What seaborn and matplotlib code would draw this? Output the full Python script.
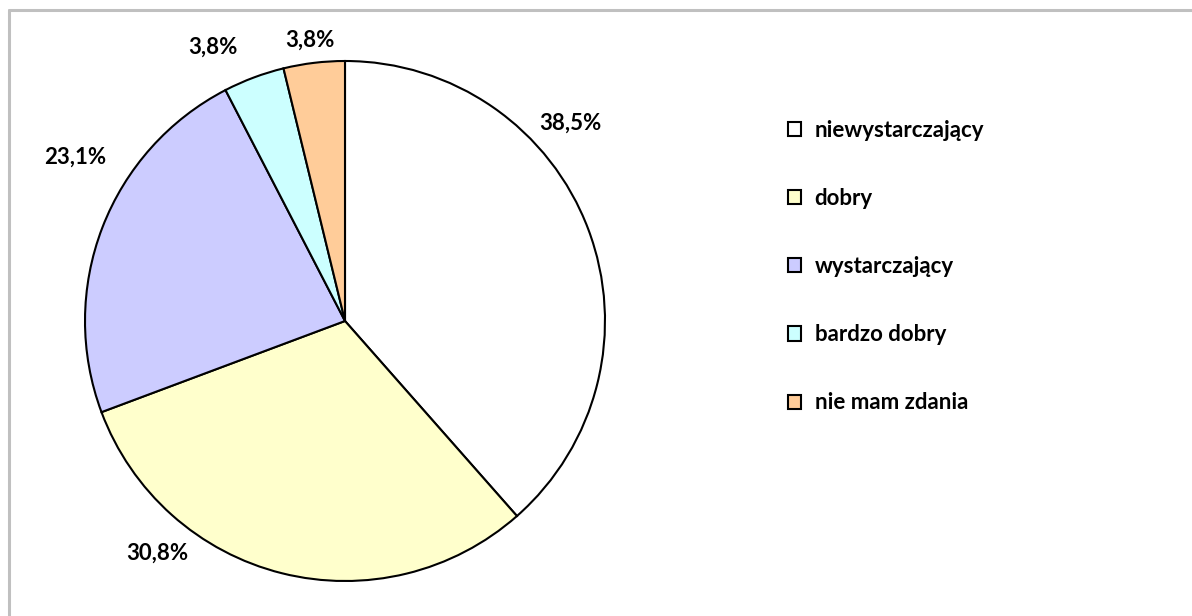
import numpy as np
import seaborn as sns
import matplotlib.pyplot as plt
from matplotlib.lines import Line2D
from matplotlib.patches import Patch

sns.set_theme(style="white")
plt.rcParams['font.family'] = ['Lato', 'DejaVu Sans']

# data
categories = ['niewystarczający', 'dobry', 'wystarczający', 'bardzo dobry', 'nie mam zdania']
values = [38.5, 30.8, 23.1, 3.8, 3.8]
colors = ['#FFFFFF', '#FFFFCC', '#CCCCFF', '#CCFFFF', '#FFCC99']
# where excel put the labels (angle in degrees, radius relative to the pie)
label_angle = [41.3, -129.0, 148.7, 115.7, 97.1]
label_radius = [1.153, 1.148, 1.215, 1.17, 1.09]

W, H = 1192, 616
fig = plt.figure(figsize=(W / 100, H / 100), dpi=100)

# pie: centre at (345, 321) px from top-left, radius 260 px
R = 260
lim = 1.3
side = 2 * R * lim
cx, cy = 345, H - 321
ax = fig.add_axes([(cx - side / 2) / W, (cy - side / 2) / H, side / W, side / H])
wedges, _ = ax.pie(values, colors=colors, startangle=90, counterclock=False,
                   radius=1, wedgeprops=dict(edgecolor='black', linewidth=1.5))
ax.set_xlim(-lim, lim)
ax.set_ylim(-lim, lim)
ax.set_aspect('equal')
ax.axis('off')

for v, a, r in zip(values, label_angle, label_radius):
    t = np.deg2rad(a)
    ax.text(r * np.cos(t), r * np.sin(t), f"{v:.1f}%".replace('.', ','),
            ha='center', va='center', fontsize=16, fontweight='bold', color='black')

handles = [Patch(facecolor=c, edgecolor='black', linewidth=1.5) for c in colors]
leg = fig.legend(handles, categories, loc='upper left',
                 bbox_to_anchor=(768 / W, 1 - 100 / H), frameon=False,
                 prop=dict(size=16, weight='bold'), handlelength=0.6, handleheight=0.6,
                 handletextpad=0.6, labelspacing=2.12)
for txt in leg.get_texts():
    txt.set_color('black')

# light grey frame on top and left like the sheet chart area
fig.add_artist(Line2D([8.5 / W, 1], [1 - 9.5 / H, 1 - 9.5 / H], color='#C0C0C0', linewidth=2.2))
fig.add_artist(Line2D([8.5 / W, 8.5 / W], [0, 1 - 9.5 / H], color='#C0C0C0', linewidth=2.2))

plt.savefig('out.png', dpi=100)
